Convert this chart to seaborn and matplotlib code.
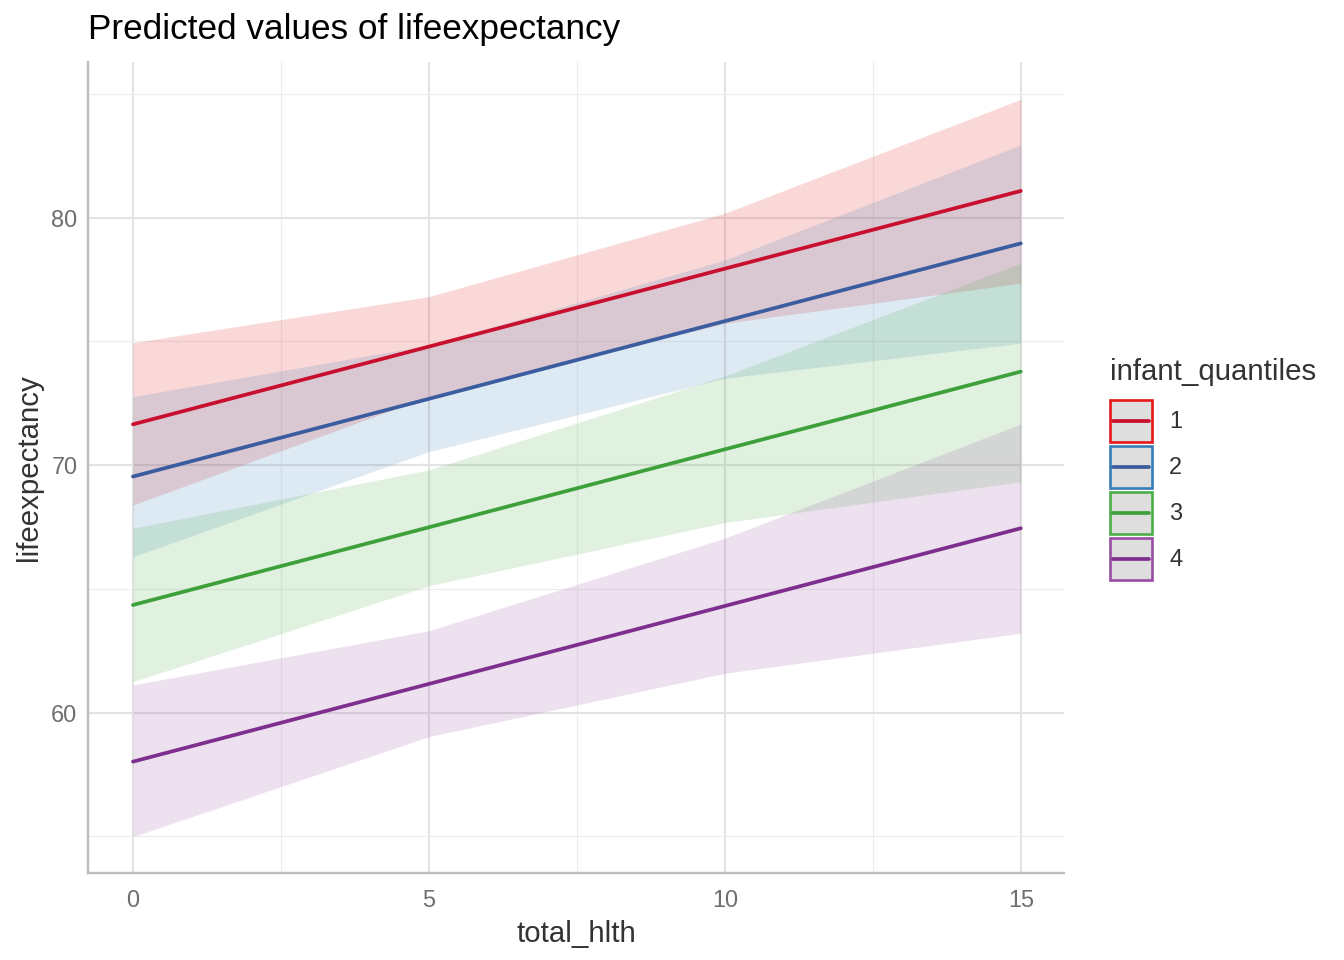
import matplotlib
matplotlib.use("Agg")
import matplotlib.pyplot as plt
from matplotlib.patches import Patch
from matplotlib.lines import Line2D
from matplotlib.legend_handler import HandlerLine2D
from matplotlib.ticker import MultipleLocator
import seaborn as sns
import pandas as pd

# x grid the predictions were made at
total_hlth = [0, 5, 10, 15]
quantiles = ["1", "2", "3", "4"]

# predicted values + confidence band per infant quantile
pred_1 = [71.65, 74.79, 77.94, 81.08]
low_1 = [68.39, 72.77, 75.73, 77.35]
high_1 = [74.95, 76.81, 80.18, 84.78]

pred_2 = [69.54, 72.68, 75.82, 78.96]
low_2 = [66.30, 70.55, 73.51, 74.93]
high_2 = [72.77, 74.85, 78.29, 82.94]

pred_3 = [64.35, 67.49, 70.64, 73.78]
low_3 = [61.25, 65.13, 67.68, 69.33]
high_3 = [67.45, 69.81, 73.60, 78.16]

pred_4 = [58.02, 61.16, 64.31, 67.45]
low_4 = [54.99, 59.03, 61.59, 63.21]
high_4 = [61.12, 63.31, 67.05, 71.66]

rows = []
for q, p, lo, hi in zip(quantiles,
                        [pred_1, pred_2, pred_3, pred_4],
                        [low_1, low_2, low_3, low_4],
                        [high_1, high_2, high_3, high_4]):
    for x, a, b, c in zip(total_hlth, p, lo, hi):
        rows.append({"total_hlth": x, "predicted": a, "conf_low": b,
                     "conf_high": c, "infant_quantiles": q})
df = pd.DataFrame(rows)

# Set1 for ribbons/legend borders, slightly darker tones for the lines
fill_colors = {"1": "#E41A1C", "2": "#377EB8", "3": "#4DAF4A", "4": "#984EA3"}
line_colors = {"1": "#C8102E", "2": "#3B5C9E", "3": "#3DA03A", "4": "#7E2F8E"}


class CenteredLine(HandlerLine2D):
    # keep the key line in the middle of the key box, a bit inset
    def create_artists(self, legend, orig_handle, xdescent, ydescent,
                       width, height, fontsize, trans):
        artists = super().create_artists(legend, orig_handle, xdescent, ydescent,
                                         width, height, fontsize, trans)
        x0 = -xdescent + 0.07 * width
        x1 = -xdescent + 0.93 * width
        for a in artists:
            a.set_xdata([x0, x1])
            a.set_ydata([height / 2 - ydescent] * 2)
        return artists


sns.set_style("white")
plt.rcParams["font.family"] = ["Liberation Sans", "DejaVu Sans"]

fig, ax = plt.subplots(figsize=(7, 5), dpi=192)
fig.subplots_adjust(left=88 / 1344, right=1064 / 1344, top=1 - 62 / 960, bottom=1 - 873 / 960)

# ribbons
for q, sub in df.groupby("infant_quantiles"):
    ax.fill_between(sub["total_hlth"], sub["conf_low"], sub["conf_high"],
                    color=fill_colors[q], alpha=0.17, linewidth=0, zorder=2)

# prediction lines
sns.lineplot(data=df, x="total_hlth", y="predicted", hue="infant_quantiles",
             palette=line_colors, linewidth=1.4, errorbar=None, legend=False,
             ax=ax, zorder=3)

ax.set_xlim(-0.76, 15.73)
ax.set_ylim(53.52, 86.29)
ax.xaxis.set_major_locator(MultipleLocator(5))
ax.xaxis.set_minor_locator(MultipleLocator(2.5))
ax.yaxis.set_major_locator(MultipleLocator(10))
ax.yaxis.set_minor_locator(MultipleLocator(5))

ax.grid(which="major", color="#E3E3E3", linewidth=0.8, zorder=0)
ax.grid(which="minor", color="#EDEDED", linewidth=0.45, zorder=0)
ax.set_axisbelow(True)

for side in ["top", "right"]:
    ax.spines[side].set_visible(False)
for side in ["left", "bottom"]:
    ax.spines[side].set_color("#BDBDBD")
    ax.spines[side].set_linewidth(0.9)

ax.tick_params(which="both", length=0, labelsize=8.8, labelcolor="#6E6E6E")
ax.tick_params(axis="x", pad=6)
ax.tick_params(axis="y", pad=4)

ax.set_xlabel("total_hlth", fontsize=11, color="#333333", labelpad=3)
ax.set_ylabel("lifeexpectancy", fontsize=11, color="#333333", labelpad=3)
ax.set_title("Predicted values of lifeexpectancy", loc="left", fontsize=13.2,
             color="black", pad=8.5)

# legend: grey key with coloured border and a line inside
handles = []
for q in quantiles:
    box = Patch(facecolor="#DEDEDE", edgecolor=fill_colors[q], linewidth=1.0)
    ln = Line2D([], [], color=line_colors[q], linewidth=1.4)
    handles.append((box, ln))
fig.text(1110 / 1344, 1 - 372 / 960, "infant_quantiles", fontsize=11,
         color="#333333", va="center", ha="left")
leg = fig.legend(handles, quantiles, loc="center left",
                 bbox_to_anchor=(1098 / 1344, 1 - 490 / 960),
                 frameon=False, fontsize=8.8,
                 handlelength=1.79, handleheight=2.38, labelspacing=0.17,
                 handletextpad=0.75, borderpad=0,
                 handler_map={Line2D: CenteredLine()})
for t in leg.get_texts():
    t.set_color("#333333")

fig.savefig("out.png", dpi=192)
